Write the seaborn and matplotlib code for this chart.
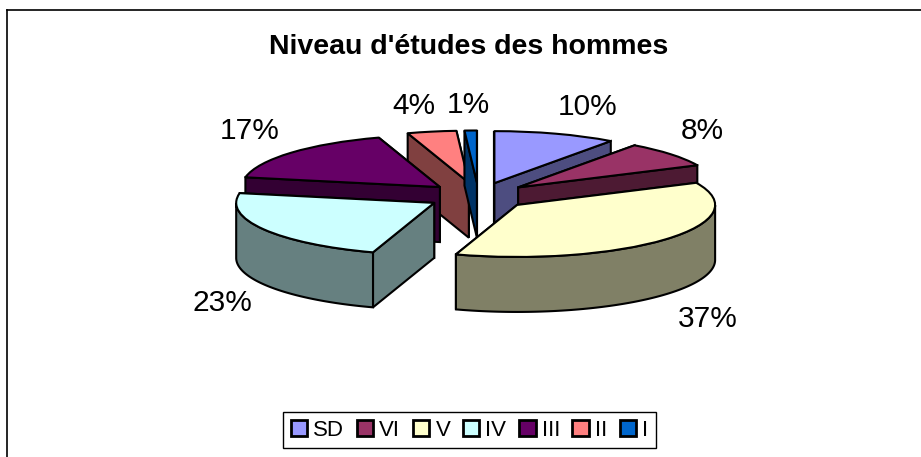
import numpy as np
import seaborn as sns
from matplotlib import pyplot as plt

CATEGORIES = ["SD", "VI", "V", "IV", "III", "II", "I"]
VALUES = [10, 8, 37, 23, 17, 4, 1]
COLORS = ["#9999FF", "#993366", "#FFFFCC", "#CCFFFF", "#660066", "#FF8080", "#0066CC"]
TITLE = "Niveau d'études des hommes"

W, H = 921, 457
# chart frame, in pixels (only top and left fall inside the picture)
LEFT, TOP = 7, 10
# pie centre, radii and thickness, in pixels
CX, CY, RX, RY, DEPTH = 478.5, 196, 198, 52, 55
EXPLODE = 0.26
# painting order, back to front
ORDER = [0, 5, 6, 4, 1, 3, 2]
# label centres in pixels
LABEL_PX = [(588, 107), (702, 131), (708, 319), (222, 302.5), (250, 130.5), (414, 106), (468, 105)]

sns.set_theme(style="white", font="Liberation Sans")
plt.rcParams["font.family"] = ["Liberation Sans", "DejaVu Sans"]

fig = plt.figure(figsize=(W / 100, H / 100), dpi=100)
ax = fig.add_axes([LEFT / W, 0, (W - LEFT) / W, (H - TOP) / H])

palette = sns.color_palette(COLORS)
wedges, texts, autotexts = ax.pie(
    VALUES,
    colors=palette,
    explode=[EXPLODE] * len(VALUES),
    startangle=90,
    counterclock=False,
    autopct="%d%%",
    wedgeprops={"edgecolor": "black", "linewidth": 1.5, "joinstyle": "round"},
    textprops={"fontsize": 21.5, "color": "black"},
)

# squash the circle into the tilted ellipse
ax.set_aspect("auto")
ax.set_xticks([])
ax.set_yticks([])
ax.set_frame_on(True)
sns.despine(ax=ax, bottom=True, right=True, top=False, left=False)
for s in ["top", "left"]:
    ax.spines[s].set_color("black")
    ax.spines[s].set_linewidth(1.2)

d = DEPTH / RY
for z, i in enumerate(ORDER):
    w = wedges[i]
    dark = tuple(c / 2 for c in palette[i])
    zo = 2 + z * 3
    w.set_zorder(zo + 2)
    cx, cy = w.center
    t = np.radians(np.linspace(w.theta1, w.theta2, 200))
    px, py = cx + np.cos(t), cy + np.sin(t)

    sides = [(px[0], py[0]), (px[-1], py[-1])]
    sides.sort(key=lambda p: -p[1])
    for sx, sy in sides:
        ax.fill([cx, sx, sx, cx], [cy, sy, sy - d, cy - d], facecolor=dark,
                edgecolor="black", linewidth=1.5, zorder=zo)

    front = np.sin(t) < 0
    if front.any():
        ax.fill(np.r_[px[front], px[front][::-1]],
                np.r_[py[front], py[front][::-1] - d],
                facecolor=dark, edgecolor="black", linewidth=1.5, zorder=zo + 1)

for at, (lx, ly) in zip(autotexts, LABEL_PX):
    at.set_position(((lx - CX) / RX, (CY - ly) / RY))
    at.set_zorder(40)
    at.set_va("center")
    at.set_ha("center")

ax.set_xlim((LEFT - CX) / RX, (W - CX) / RX)
ax.set_ylim((CY - H) / RY, (CY - TOP) / RY)

fig.text(469 / W, 1 - 47 / H, TITLE, fontsize=20.5, fontweight="bold", ha="center", va="center", color="black")

leg = fig.legend(
    wedges, CATEGORIES, ncol=len(CATEGORIES),
    loc="center", bbox_to_anchor=(469.5 / W, 1 - 430 / H),
    fontsize=16, frameon=True, fancybox=False, edgecolor="black", framealpha=1,
    labelcolor="black",
    handlelength=0.75, handleheight=0.75, handletextpad=0.27, columnspacing=0.56,
    borderpad=0.33, borderaxespad=0,
)
leg.get_frame().set_linewidth(1.0)
for h in leg.legend_handles:
    h.set_linewidth(2)

fig.savefig("out.png", dpi=100)
